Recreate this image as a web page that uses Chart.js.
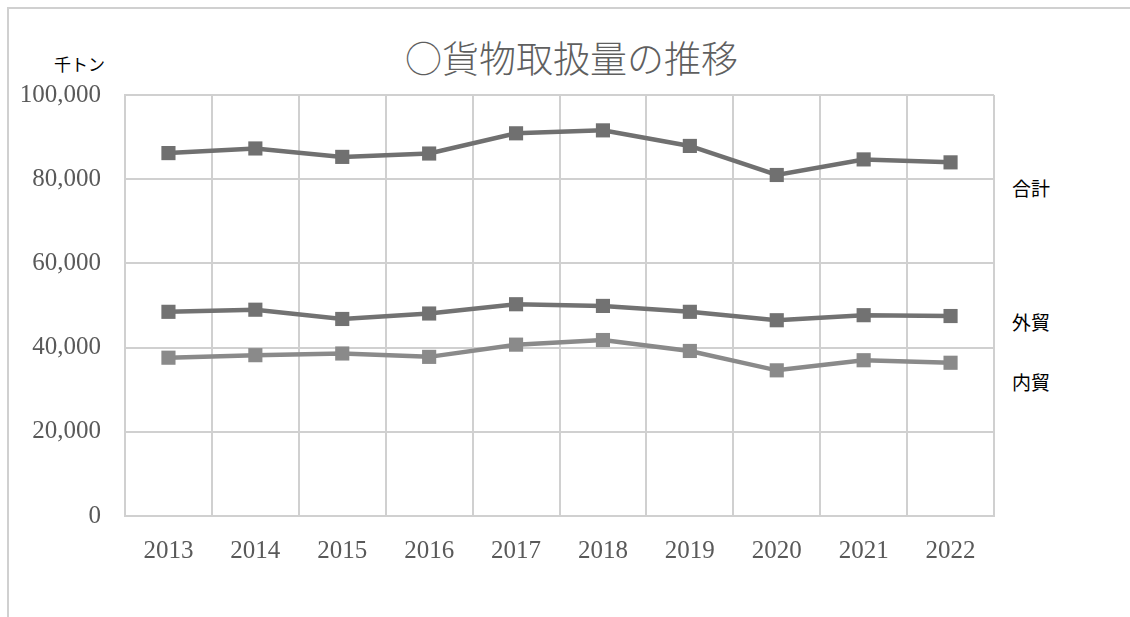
<!DOCTYPE html>
<html>
<head>
<meta charset="utf-8">
<script src="https://cdn.jsdelivr.net/npm/chart.js@4"></script>
<style>
  body { margin: 0; background: #fff; overflow: hidden; }
  .frame { position: absolute; left: 7px; top: 7px; width: 1200px; height: 700px;
           border-left: 2px solid #d0d0d0; border-top: 2px solid #d0d0d0; }
  .txt { position: absolute; font-family: "Noto Sans CJK JP", sans-serif; white-space: nowrap; }
  #title { left: 405px; top: 33px; font-size: 37px; line-height: 48px; color: #5f5f5f; font-weight: 300; }
  #unit { left: 54px; top: 54px; font-size: 17px; line-height: 20px; color: #000; }
  .lbl { left: 1012px; font-size: 19px; line-height: 20px; color: #000; }
  #myChart { position: absolute; left: 0; top: 0; }
</style>
</head>
<body>
<div class="frame"></div>
<div class="txt" id="title">○貨物取扱量の推移</div>
<div class="txt" id="unit">千トン</div>
<div class="txt lbl" style="top:178px">合計</div>
<div class="txt lbl" style="top:312px">外貿</div>
<div class="txt lbl" style="top:372px">内貿</div>
<canvas id="myChart" width="1130" height="617"></canvas>
<script>
// 千トン
var years = ["2013", "2014", "2015", "2016", "2017", "2018", "2019", "2020", "2021", "2022"];
var total = [86200, 87300, 85300, 86100, 90900, 91600, 87900, 81000, 84700, 84000];
var foreign = [48500, 49000, 46800, 48100, 50300, 49900, 48500, 46500, 47700, 47500];
var domestic = [37600, 38200, 38600, 37800, 40700, 41800, 39200, 34600, 37000, 36400];
var yTicks = [0, 20000, 40000, 60000, 80000, 100000];

var gridColor = "#d0d0d0";

var makeSet = function (label, values, color) {
  return {
    label: label,
    data: values,
    borderColor: color,
    backgroundColor: color,
    borderWidth: 4.5,
    pointStyle: "rect",
    pointRadius: 10,
    pointHoverRadius: 10,
    pointBorderWidth: 0,
    tension: 0
  };
};

var ctx = document.getElementById("myChart");
var myLineChart = new Chart(ctx, {
  type: "line",
  data: {
    labels: years,
    datasets: [
      makeSet("合計", total, "#707070"),
      makeSet("外貿", foreign, "#727272"),
      makeSet("内貿", domestic, "#8a8a8a")
    ]
  },
  options: {
    responsive: false,
    animation: false,
    layout: { padding: { top: 95, right: 136, bottom: 0, left: 0 } },
    plugins: {
      legend: { display: false },
      tooltip: { enabled: false }
    },
    scales: {
      x: {
        offset: true,
        grid: { offset: true, color: gridColor, lineWidth: 2, drawTicks: false },
        border: { color: gridColor, width: 2 },
        ticks: {
          padding: 20,
          color: "#595959",
          font: { family: "Liberation Serif", size: 25 }
        },
        afterFit: function (scale) { scale.height = 101; }
      },
      y: {
        min: 0,
        max: 100000,
        afterBuildTicks: function (scale) {
          scale.ticks = yTicks.map(function (v) { return { value: v }; });
        },
        grid: { color: gridColor, lineWidth: 2, drawTicks: false },
        border: { color: gridColor, width: 2 },
        ticks: {
          padding: 24,
          color: "#595959",
          font: { family: "Liberation Serif", size: 25 },
          callback: function (v) { return v.toLocaleString("en-US"); }
        },
        afterFit: function (scale) { scale.width = 125; }
      }
    }
  }
});
</script>
</body>
</html>
